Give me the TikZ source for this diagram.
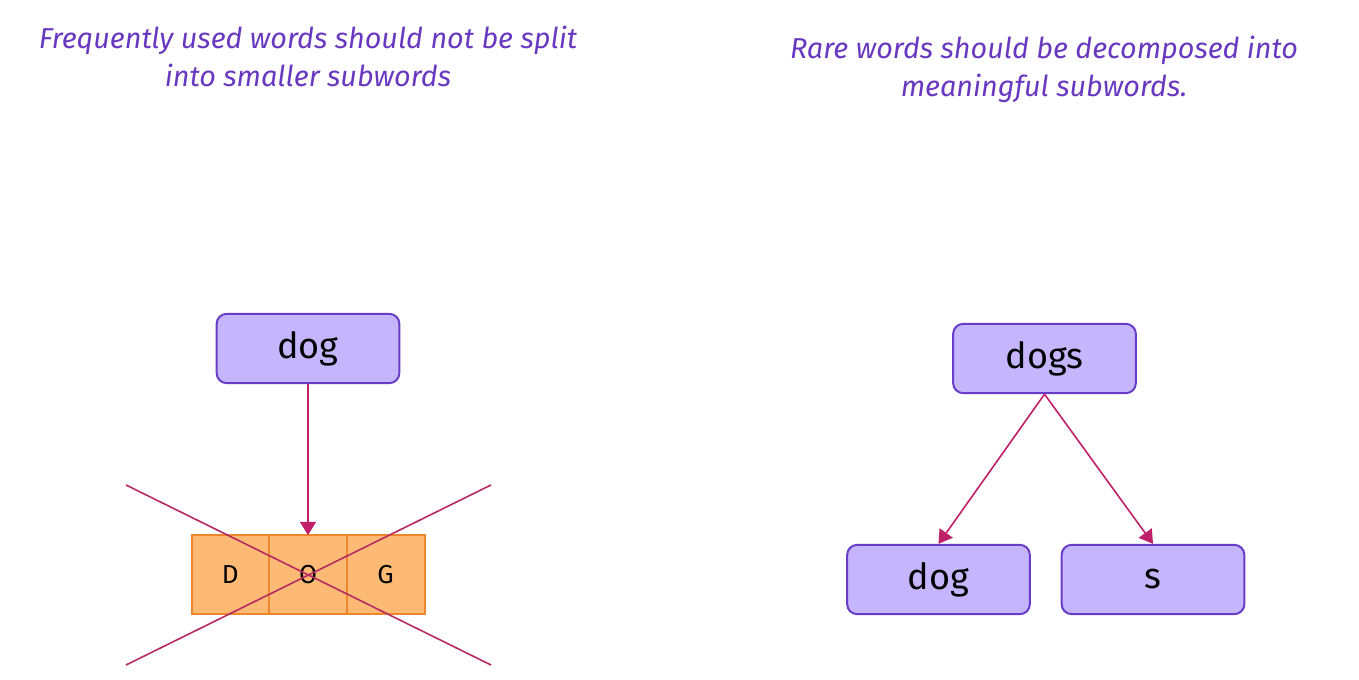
\documentclass[tikz,border=0pt]{standalone}
\usepackage{fontspec}
\setmainfont{Fira Sans}
\usetikzlibrary{arrows.meta}
\definecolor{lav}{HTML}{C4B5FD}
\definecolor{lavb}{HTML}{6A3DC8}
\definecolor{ttl}{HTML}{6938C0}
\definecolor{arr}{HTML}{C0206A}
\definecolor{crs}{HTML}{B82A62}
\definecolor{org}{HTML}{FDBA74}
\definecolor{orgb}{HTML}{F0862A}
\tikzset{
  x=0.75pt,y=-0.75pt,
  wordbox/.style={draw=lavb,fill=lav,line width=1.5pt,rounded corners=7.5pt,minimum width=137pt,minimum height=52pt,inner sep=0pt,font=\fontsize{27}{30}\selectfont},
  letterbox/.style={draw=orgb,fill=org,line width=1.5pt,minimum width=58.25pt,minimum height=59pt,inner sep=0pt,outer sep=0pt,font=\fontsize{19.5}{22}\selectfont},
  title/.style={text=ttl,align=center,font=\fontsize{21.6}{28.5}\selectfont\itshape},
  conn/.style={draw=arr,line width=1.2pt,-{Triangle[length=10pt,width=12pt]}},
  cross/.style={draw=crs,line width=1.2pt}
}
\begin{document}
\begin{tikzpicture}
\useasboundingbox (0,0) rectangle (1359,680);
\node[title] (t1) at (308,56) {Frequently used words should not be split\\into smaller subwords};
\node[title] (t2) at (1044,69) {Rare words should be decomposed into\\meaningful subwords.};
\node[wordbox] (dog1) at (308,348.5) {dog};
\node[letterbox] (O) at (308,574.5) {O};
\node[letterbox,anchor=east] (D) at (O.west) {D};
\node[letterbox,anchor=west] (G) at (O.east) {G};
\draw[conn] (dog1.south) -- (O.north);
\coordinate (c1) at (126,485);
\coordinate (c2) at (491,665);
\coordinate (c3) at (126,665);
\coordinate (c4) at (491,485);
\draw[cross] (c1) -- (c2);
\draw[cross] (c3) -- (c4);
\node[wordbox] (dogs) at (1044.5,358.5) {dogs};
\node[wordbox] (dog2) at (938.5,579.5) {dog};
\node[wordbox] (s) at (1153,579.5) {s};
\draw[conn] (dogs.south) -- (dog2.north);
\draw[conn] (dogs.south) -- (s.north);
\end{tikzpicture}
\end{document}
